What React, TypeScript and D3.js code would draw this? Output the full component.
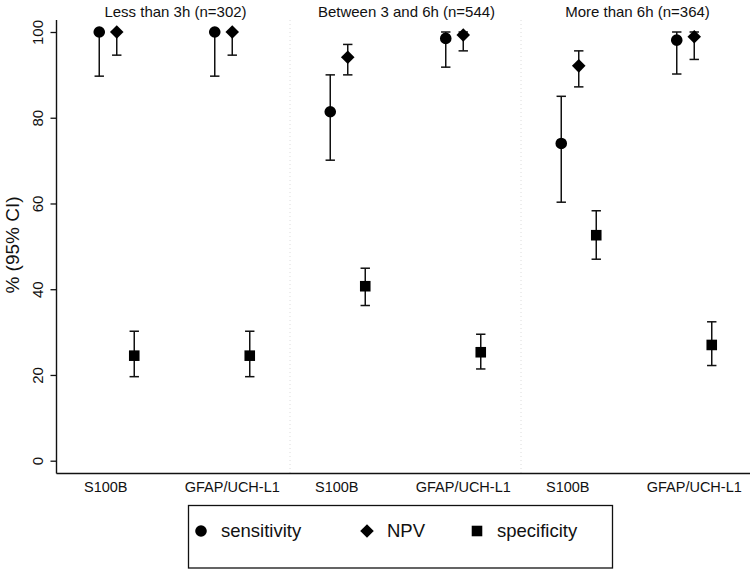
import { useEffect, useRef } from 'react';
import * as d3 from 'd3';

// panels (time since injury), markers and measures
const panels = ["Less than 3h (n=302)", "Between 3 and 6h (n=544)", "More than 6h (n=364)"];
const markers = ["S100B", "GFAP/UCH-L1"];
const measures = ["sensitivity", "NPV", "specificity"];
const yTicks = [0, 20, 40, 60, 80, 100];

// values in panel order, S100B then GFAP/UCH-L1
const sensitivity = [100, 100, 81.4, 98.5, 74.0, 98.1];
const sensitivityLo = [89.7, 89.7, 70.1, 91.8, 60.3, 90.2];
const sensitivityHi = [100, 100, 90.0, 100, 85.0, 100];
const npv = [100, 100, 94.1, 99.3, 92.1, 98.9];
const npvLo = [94.6, 94.6, 90.0, 95.6, 87.2, 93.6];
const npvHi = [100, 100, 97.1, 100, 95.6, 100];
const specificity = [24.5, 24.5, 40.7, 25.3, 52.6, 27.0];
const specificityLo = [19.6, 19.6, 36.2, 21.4, 47.0, 22.2];
const specificityHi = [30.2, 30.2, 44.9, 29.5, 58.3, 32.4];

const FONT = "'Liberation Sans', Arial, Helvetica, sans-serif";
const INK = "#111";

export default function App() {
    const svgRef = useRef<SVGSVGElement>(null);

    useEffect(() => {
        if (!svgRef.current) return;
        document.body.style.margin = "0";

        const svg = d3.select(svgRef.current);
        svg.selectAll("*").remove();

        const width = 750;
        const axisX = 56.5;
        const axisTop = 20;
        const axisBottom = 473.5;

        // scales
        const y = d3.scaleLinear().domain([0, 100]).range([460.7, 32]);
        const xPanel = d3.scaleBand().domain(panels).range([59, 752]);
        const xGroup = d3.scaleBand().domain(markers).range([0, xPanel.bandwidth()]);
        const xMeasure = d3.scalePoint().domain(measures).range([-17.5, 17.5]);

        const groupCenter = (p: string, m: string) =>
            (xPanel(p) || 0) + (xGroup(m) || 0) + xGroup.bandwidth() / 2;

        // rows: one per panel x marker x measure
        const series = [
            { key: "sensitivity", v: sensitivity, lo: sensitivityLo, hi: sensitivityHi },
            { key: "NPV", v: npv, lo: npvLo, hi: npvHi },
            { key: "specificity", v: specificity, lo: specificityLo, hi: specificityHi },
        ];
        const rows: { panel: string; marker: string; measure: string; v: number; lo: number; hi: number }[] = [];
        panels.forEach((p, pi) => {
            markers.forEach((m, mi) => {
                const idx = pi * markers.length + mi;
                series.forEach(s => {
                    rows.push({ panel: p, marker: m, measure: s.key, v: s.v[idx], lo: s.lo[idx], hi: s.hi[idx] });
                });
            });
        });

        const symbolFor = (measure: string) => {
            if (measure === "sensitivity") return d3.symbol().type(d3.symbolCircle).size(106)();
            return d3.symbol().type(d3.symbolSquare).size(measure === "NPV" ? 92 : 112)();
        };

        // panel separators (light dotted)
        svg.append("g")
            .selectAll("line")
            .data(panels.slice(1))
            .enter()
            .append("line")
            .attr("x1", d => xPanel(d) || 0)
            .attr("x2", d => xPanel(d) || 0)
            .attr("y1", axisTop)
            .attr("y2", axisBottom)
            .attr("stroke", "#dcdcdc")
            .attr("stroke-width", 1)
            .attr("stroke-dasharray", "1,3");

        // panel titles
        svg.append("g")
            .selectAll("text")
            .data(panels)
            .enter()
            .append("text")
            .attr("x", d => (xPanel(d) || 0) + xPanel.bandwidth() / 2 + 1)
            .attr("y", 17)
            .attr("text-anchor", "middle")
            .attr("font-family", FONT)
            .attr("font-size", "15px")
            .attr("fill", INK)
            .text(d => d);

        // y axis
        const yAxis = svg.append("g")
            .attr("transform", `translate(${axisX},0)`)
            .call(d3.axisLeft(y).tickValues(yTicks).tickSize(6).tickFormat(d3.format("d")));
        yAxis.select(".domain").remove();
        yAxis.selectAll(".tick line").attr("stroke", INK).attr("stroke-width", 1.3);
        yAxis.selectAll(".tick text")
            .attr("x", 0)
            .attr("y", -13.5)
            .attr("dy", 0)
            .attr("transform", "rotate(-90)")
            .style("text-anchor", "middle")
            .style("font-family", FONT)
            .style("font-size", "15px")
            .style("fill", INK);

        svg.append("line")
            .attr("x1", axisX).attr("x2", axisX)
            .attr("y1", axisTop).attr("y2", axisBottom)
            .attr("stroke", INK).attr("stroke-width", 1.4);
        svg.append("line")
            .attr("x1", axisX).attr("x2", width)
            .attr("y1", axisBottom).attr("y2", axisBottom)
            .attr("stroke", INK).attr("stroke-width", 1.4);

        svg.append("text")
            .attr("transform", "translate(19,245) rotate(-90)")
            .attr("text-anchor", "middle")
            .attr("font-family", FONT)
            .attr("font-size", "19px")
            .attr("fill", INK)
            .text("% (95% CI)");

        // x category labels
        const labelRows = panels.flatMap(p => markers.map(m => ({ p, m })));
        svg.append("g")
            .selectAll("text")
            .data(labelRows)
            .enter()
            .append("text")
            .attr("x", d => groupCenter(d.p, d.m) + (d.m === "S100B" ? -11 : 0))
            .attr("y", 492)
            .attr("text-anchor", "middle")
            .attr("font-family", FONT)
            .attr("font-size", "14.5px")
            .attr("fill", INK)
            .text(d => d.m);

        // confidence intervals
        const cap = 4.7;
        const bars = svg.append("g")
            .attr("stroke", INK)
            .attr("stroke-width", 1.5)
            .attr("fill", "none");
        rows.forEach(r => {
            const cx = groupCenter(r.panel, r.marker) + (xMeasure(r.measure) || 0);
            bars.append("line").attr("x1", cx).attr("x2", cx).attr("y1", y(r.lo)).attr("y2", y(r.hi));
            bars.append("line").attr("x1", cx - cap).attr("x2", cx + cap).attr("y1", y(r.lo)).attr("y2", y(r.lo));
            bars.append("line").attr("x1", cx - cap).attr("x2", cx + cap).attr("y1", y(r.hi)).attr("y2", y(r.hi));
        });

        // point estimates
        svg.append("g")
            .selectAll("path")
            .data(rows)
            .enter()
            .append("path")
            .attr("d", d => symbolFor(d.measure))
            .attr("transform", d => {
                const cx = groupCenter(d.panel, d.marker) + (xMeasure(d.measure) || 0);
                return `translate(${cx},${y(d.v)})` + (d.measure === "NPV" ? " rotate(45)" : "");
            })
            .attr("fill", "#000");

        // legend
        const legend = svg.append("g");
        legend.append("rect")
            .attr("x", 188.5)
            .attr("y", 505.5)
            .attr("width", 424)
            .attr("height", 62.5)
            .attr("fill", "#fff")
            .attr("stroke", INK)
            .attr("stroke-width", 1.3);
        const legendSymbolX = [201, 367, 477];
        measures.forEach((m, i) => {
            legend.append("path")
                .attr("d", symbolFor(m))
                .attr("transform", `translate(${legendSymbolX[i]},531)` + (m === "NPV" ? " rotate(45)" : ""))
                .attr("fill", "#000");
            legend.append("text")
                .attr("x", legendSymbolX[i] + 20)
                .attr("y", 537)
                .attr("font-family", FONT)
                .attr("font-size", "18.5px")
                .attr("fill", INK)
                .text(m);
        });
    }, []);

    return (
        <svg
            ref={svgRef}
            width={750}
            height={572}
            viewBox="0 0 750 572"
            style={{ display: "block", background: "#fff" }}
        />
    );
}
